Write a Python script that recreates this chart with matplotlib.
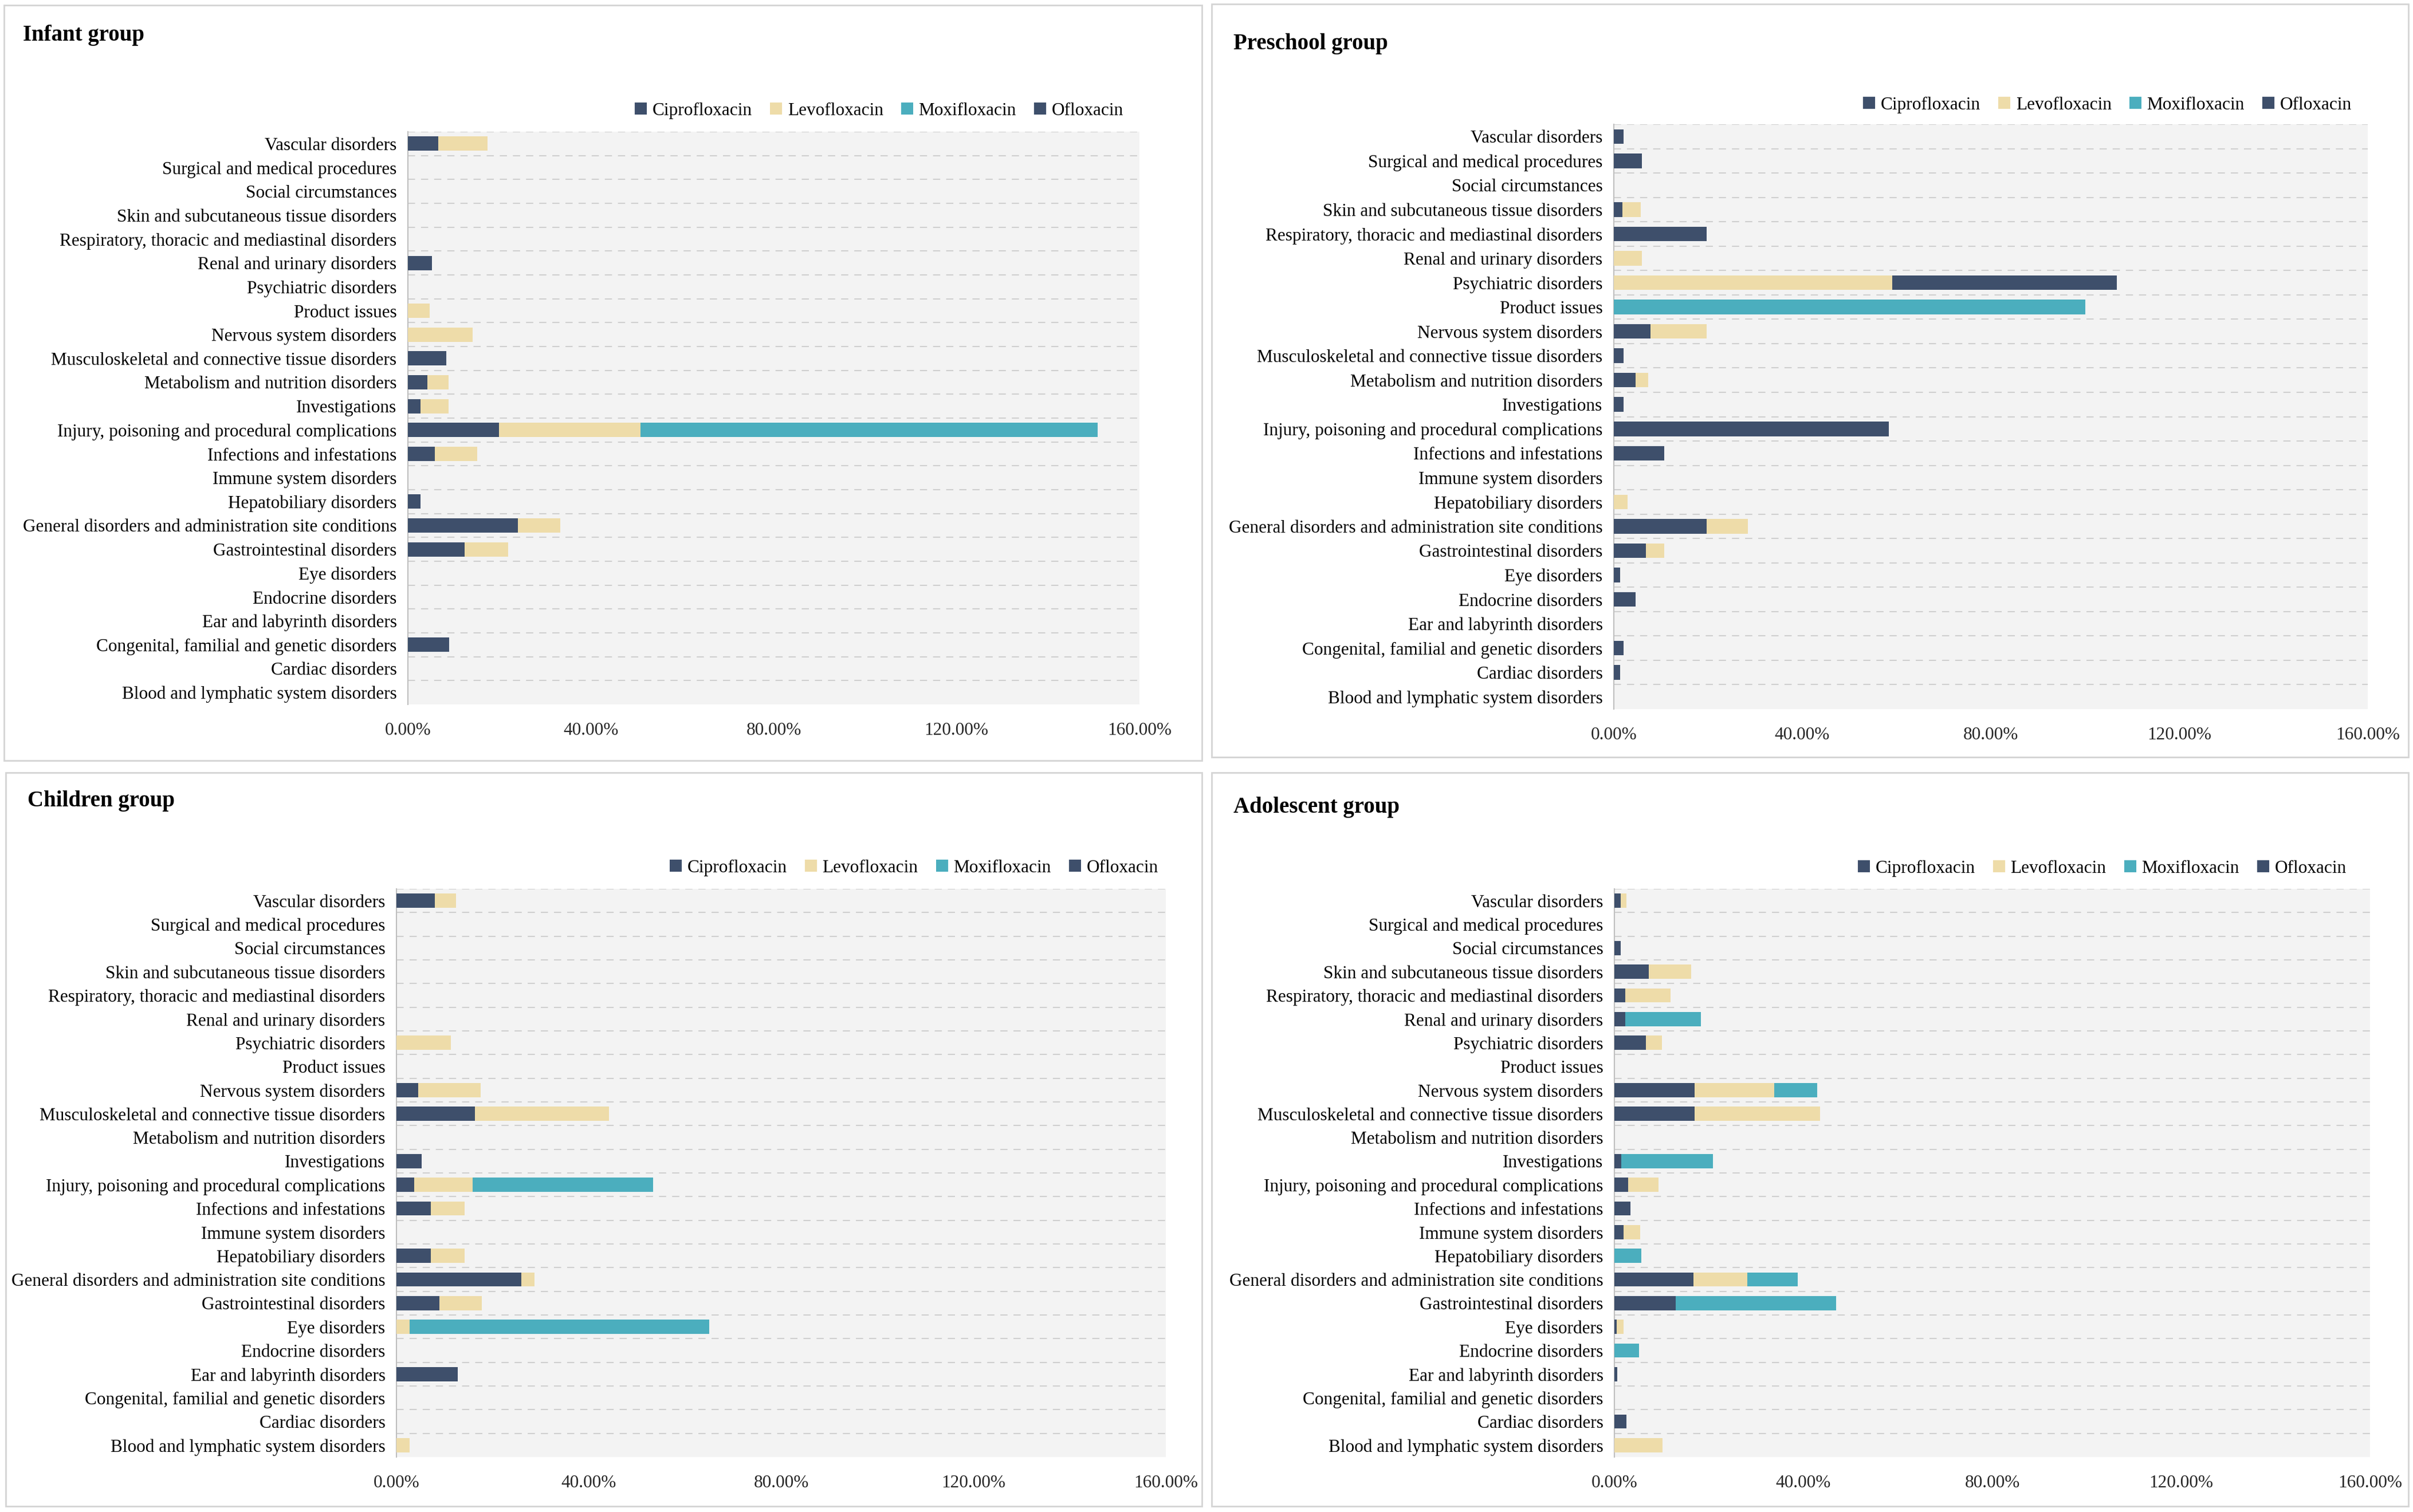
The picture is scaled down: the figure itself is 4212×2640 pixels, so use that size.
import matplotlib
matplotlib.use("Agg")
import matplotlib.pyplot as plt
from matplotlib.patches import Rectangle, Patch
from matplotlib.ticker import FuncFormatter
import numpy as np

plt.rcParams['font.family'] = ['Liberation Serif', 'DejaVu Serif']

# Categories (bottom -> top)
categories = [
    "Blood and lymphatic system disorders",
    "Cardiac disorders",
    "Congenital, familial and genetic disorders",
    "Ear and labyrinth disorders",
    "Endocrine disorders",
    "Eye disorders",
    "Gastrointestinal disorders",
    "General disorders and administration site conditions",
    "Hepatobiliary disorders",
    "Immune system disorders",
    "Infections and infestations",
    "Injury, poisoning and procedural complications",
    "Investigations",
    "Metabolism and nutrition disorders",
    "Musculoskeletal and connective tissue disorders",
    "Nervous system disorders",
    "Product issues",
    "Psychiatric disorders",
    "Renal and urinary disorders",
    "Respiratory, thoracic and mediastinal disorders",
    "Skin and subcutaneous tissue disorders",
    "Social circumstances",
    "Surgical and medical procedures",
    "Vascular disorders",
]

drugs = ["Ciprofloxacin", "Levofloxacin", "Moxifloxacin", "Ofloxacin"]
x_ticks = [0.0, 0.4, 0.8, 1.2, 1.6]

# Values in percent, same order as categories
infant_cipro = [0, 0, 9.0, 0, 0, 0, 12.4, 24.1, 2.7, 0, 5.9, 19.9, 2.7, 4.2, 8.4, 0, 0, 0, 5.2, 0, 0, 0, 0, 6.7]
infant_levo  = [0, 0, 0, 0, 0, 0, 9.5, 9.2, 0, 0, 9.2, 31.0, 6.2, 4.7, 0, 14.1, 4.7, 0, 0, 0, 0, 0, 0, 10.7]
infant_moxi  = [0, 0, 0, 0, 0, 0, 0, 0, 0, 0, 0, 100.0, 0, 0, 0, 0, 0, 0, 0, 0, 0, 0, 0, 0]
infant_oflo  = [0] * 24

preschool_cipro = [0, 1.3, 2.1, 0, 4.6, 1.3, 6.8, 19.7, 0, 0, 10.7, 58.3, 2.1, 4.6, 2.1, 7.8, 0, 0, 0, 19.7, 1.8, 0, 5.9, 2.1]
preschool_levo  = [0, 0, 0, 0, 0, 0, 3.9, 8.8, 2.9, 0, 0, 0, 0, 2.7, 0, 11.9, 0, 59.1, 5.9, 0, 3.9, 0, 0, 0]
preschool_moxi  = [0, 0, 0, 0, 0, 0, 0, 0, 0, 0, 0, 0, 0, 0, 0, 0, 100.0, 0, 0, 0, 0, 0, 0, 0]
preschool_oflo  = [0, 0, 0, 0, 0, 0, 0, 0, 0, 0, 0, 0, 0, 0, 0, 0, 0, 47.6, 0, 0, 0, 0, 0, 0]

children_cipro = [0, 0, 0, 12.8, 0, 0, 8.9, 26.0, 7.2, 0, 7.2, 3.7, 5.3, 0, 16.3, 4.5, 0, 0, 0, 0, 0, 0, 0, 8.0]
children_levo  = [2.7, 0, 0, 0, 0, 2.7, 8.8, 2.7, 7.0, 0, 7.0, 12.1, 0, 0, 27.9, 13.0, 0, 11.3, 0, 0, 0, 0, 0, 4.4]
children_moxi  = [0, 0, 0, 0, 0, 62.4, 0, 0, 0, 0, 0, 37.6, 0, 0, 0, 0, 0, 0, 0, 0, 0, 0, 0, 0]
children_oflo  = [0] * 24

adolescent_cipro = [0, 2.6, 0, 0.6, 0, 0.5, 13.0, 16.7, 0, 1.9, 3.4, 2.9, 1.5, 0, 17.0, 17.0, 0, 6.7, 2.3, 2.3, 7.3, 1.3, 0, 1.3]
adolescent_levo  = [10.2, 0, 0, 0, 0, 1.4, 0, 11.5, 0, 3.5, 0, 6.4, 0, 0, 26.5, 16.9, 0, 3.4, 0, 9.6, 8.9, 0, 0, 1.3]
adolescent_moxi  = [0, 0, 0, 0, 5.2, 0, 33.9, 10.6, 5.7, 0, 0, 0, 19.4, 0, 0, 9.1, 0, 0, 16.0, 0, 0, 0, 0, 0]
adolescent_oflo  = [0] * 24

colors = ["#3E4F6B", "#EEDCA9", "#4BAEBE", "#3E4F6B"]

W, H = 4212, 2640
DPI = 100
fig = plt.figure(figsize=(W / DPI, H / DPI), dpi=DPI)
fig.patch.set_facecolor("white")


def fx(px):
    return px / W


def fy(py):
    return 1 - py / H


panels = [
    dict(title="Infant group", data=[infant_cipro, infant_levo, infant_moxi, infant_oflo],
         box=(7, 9, 2098, 1328), ax=(712, 230, 1989, 1230), leg=(1961, 193), tpos=(40, 71)),
    dict(title="Preschool group", data=[preschool_cipro, preschool_levo, preschool_moxi, preschool_oflo],
         box=(2115, 7, 4204, 1322), ax=(2817, 217, 4133, 1238), leg=(4105, 183), tpos=(2153, 86)),
    dict(title="Children group", data=[children_cipro, children_levo, children_moxi, children_oflo],
         box=(10, 1349, 2098, 2630), ax=(692, 1552, 2035, 2544), leg=(2022, 1515), tpos=(48, 1408)),
    dict(title="Adolescent group", data=[adolescent_cipro, adolescent_levo, adolescent_moxi, adolescent_oflo],
         box=(2115, 1349, 4204, 2630), ax=(2818, 1552, 4137, 2544), leg=(4096, 1516), tpos=(2153, 1419)),
]

y = np.arange(len(categories))

for p in panels:
    x0, y0, x1, y1 = p["box"]
    fig.patches.append(Rectangle((fx(x0), fy(y1)), fx(x1 - x0), (y1 - y0) / H,
                                 transform=fig.transFigure, facecolor="none",
                                 edgecolor="#D4D4D4", linewidth=2.0, zorder=-5))
    fig.text(fx(p["tpos"][0]), fy(p["tpos"][1]), p["title"], fontsize=28,
             fontweight="bold", ha="left", va="baseline", color="black")

    a0, b0, a1, b1 = p["ax"]
    ax = fig.add_axes([fx(a0), fy(b1), fx(a1 - a0), (b1 - b0) / H])
    ax.set_facecolor("#F3F3F3")
    left = np.zeros(len(categories))
    for vals, name, c in zip(p["data"], drugs, colors):
        v = np.array(vals) / 100.0
        ax.barh(y, v, left=left, height=0.6, color=c, label=name, zorder=3)
        left = left + v
    for k in range(len(categories)):
        ax.axhline(k + 0.5, color="#CFCFCF", linewidth=1.5, linestyle=(0, (6, 5)), zorder=1)
    ax.set_ylim(-0.5, len(categories) - 0.5)
    ax.set_xlim(0, 1.6)
    ax.set_xticks(x_ticks)
    ax.xaxis.set_major_formatter(FuncFormatter(lambda v, pos: f"{v * 100:.2f}%"))
    ax.set_yticks(y)
    ax.set_yticklabels(categories)
    ax.tick_params(axis="y", length=0, pad=14, labelsize=22.5, labelcolor="black")
    ax.tick_params(axis="x", length=0, pad=22, labelsize=22.5, labelcolor="#262626")
    for s in ["top", "right", "bottom"]:
        ax.spines[s].set_visible(False)
    ax.spines["left"].set_color("#BFBFBF")
    ax.spines["left"].set_linewidth(1.5)

    handles = [Patch(facecolor=c, edgecolor="none", label=n) for n, c in zip(drugs, colors)]
    lx, ly = p["leg"]
    fig.legend(handles=handles, loc="center right", bbox_to_anchor=(fx(lx), fy(ly)),
               bbox_transform=fig.transFigure, ncol=4, frameon=False, fontsize=22.5,
               handlelength=0.68, handleheight=0.68, handletextpad=0.3,
               columnspacing=1.0, borderpad=0, borderaxespad=0)

fig.savefig("out.png", dpi=DPI, facecolor="white")
